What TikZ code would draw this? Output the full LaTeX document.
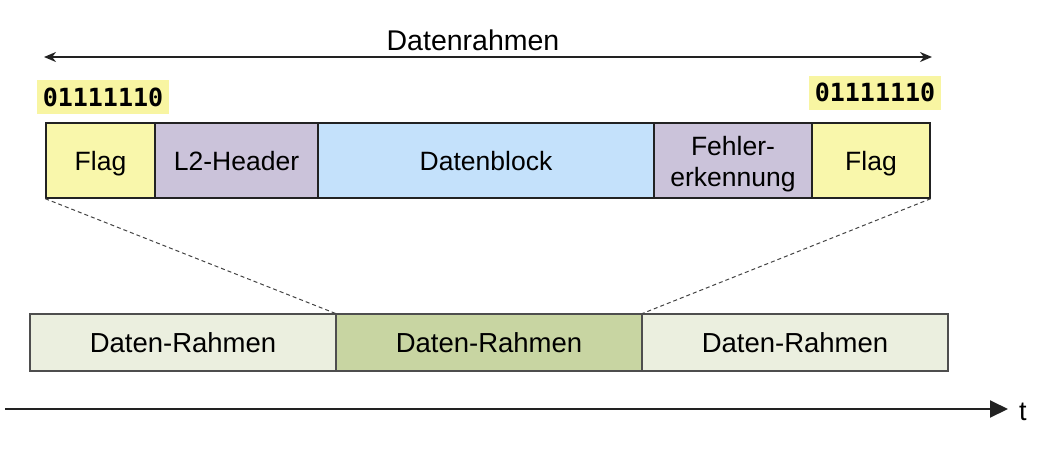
\documentclass[tikz,border=0pt]{standalone}
\usepackage{fontspec}
\setmainfont{Liberation Sans}
\newfontfamily\monofnt{DejaVu Sans Mono}
\usetikzlibrary{arrows.meta}
\definecolor{flagcol}{HTML}{F9F7AB}
\definecolor{hlcol}{HTML}{F8F5A2}
\definecolor{l2col}{HTML}{CBC3DA}
\definecolor{dbcol}{HTML}{C4E1FB}
\definecolor{lightgr}{HTML}{EBEFDF}
\definecolor{midgr}{HTML}{C8D5A2}
\definecolor{linecol}{HTML}{222222}
\tikzset{
  field/.style={draw=linecol, line width=1.4pt, inner sep=0pt, minimum height=75pt,
     text height=19pt, text depth=0pt, font=\fontsize{26.5}{31}\selectfont},
  frame/.style={draw=linecol!80, line width=1.2pt, inner sep=0pt, minimum height=57pt, minimum width=306pt,
     text height=20pt, text depth=0pt, font=\fontsize{27.5}{31}\selectfont},
  bits/.style={fill=hlcol, inner sep=0pt, minimum width=132pt, minimum height=34pt,
     font=\monofnt\bfseries\fontsize{25}{28}\selectfont},
  conn/.style={draw=linecol!85, line width=1pt, dash pattern=on 4pt off 3pt},
  axis/.style={draw=linecol, line width=2pt}
}
\begin{document}
\begin{tikzpicture}[x=1pt,y=-1pt]
\useasboundingbox (0,0) rectangle (1063,448);
% top arrow
\coordinate (aL) at (44,57);
\coordinate (aR) at (932,57);
\draw[axis, {Stealth[length=12pt,width=10pt]}-{Stealth[length=12pt,width=10pt]}] (aL) -- (aR);
\node[font=\fontsize{28.5}{32}\selectfont, anchor=base] (dr) at (473,50) {Datenrahmen};
% bit labels
\node[bits] (bitsL) at (103,97) {01111110};
\node[bits] (bitsR) at (875,92.5) {01111110};
% frame fields
\node[field, fill=flagcol, minimum width=109pt] (flagL) at (100.5,160.5) {Flag};
\node[field, fill=l2col, minimum width=163pt] (l2) at (236.5,160.5) {L2-Header};
\node[field, fill=dbcol, minimum width=336pt] (db) at (486,160.5) {Datenblock};
\node[field, fill=l2col, minimum width=158pt] (fe) at (733,160.5) {};
\node[align=center, inner sep=0pt, font=\fontsize{26.5}{31}\selectfont] (fetext) at (733,164) {Fehler-\\erkennung};
\node[field, fill=flagcol, minimum width=118pt] (flagR) at (871,160.5) {Flag};
% bottom frames
\node[frame, fill=lightgr] (r1) at (183,342.5) {Daten-Rahmen};
\node[frame, fill=midgr] (r2) at (489,342.5) {Daten-Rahmen};
\node[frame, fill=lightgr] (r3) at (795,342.5) {Daten-Rahmen};
% dashed connectors
\draw[conn] (flagL.south west) -- (r2.north west);
\draw[conn] (flagR.south east) -- (r2.north east);
% time axis
\coordinate (t0) at (5,409);
\coordinate (t1) at (1008,409);
\draw[axis, -{Triangle[length=18pt,width=17pt]}] (t0) -- (t1);
\node[font=\fontsize{27}{31}\selectfont, anchor=west, inner sep=0pt] (tl) at (1019,412) {t};
\end{tikzpicture}
\end{document}
